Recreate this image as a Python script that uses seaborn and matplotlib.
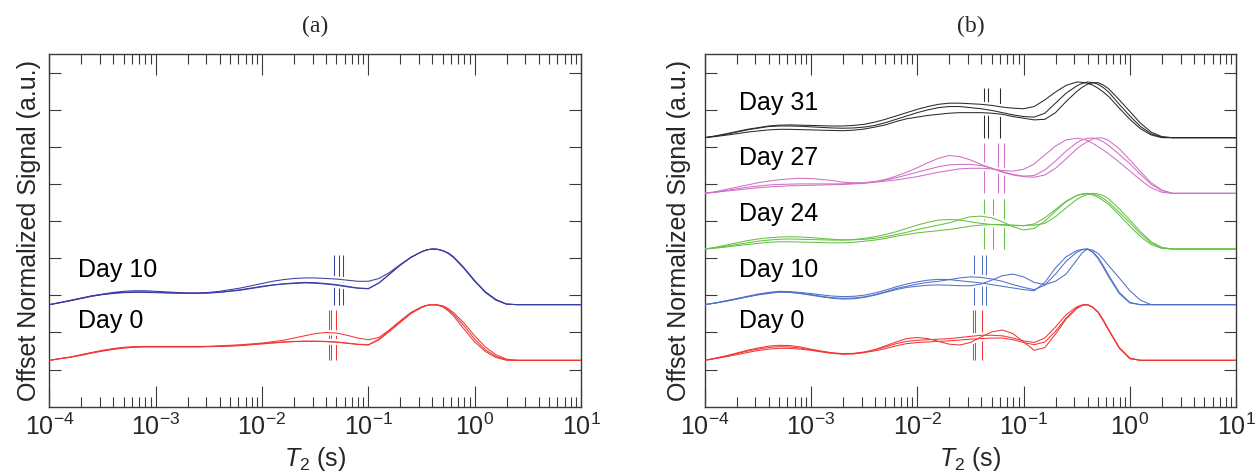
import numpy as np
import pandas as pd
import matplotlib
matplotlib.use("Agg")
import matplotlib.pyplot as plt
import seaborn as sns
from matplotlib.ticker import LogLocator, NullFormatter, LogFormatterMathtext

# ---------------------------------------------------------------------------
# T2 distributions (normalized signal, peak = 1) sampled on a log10(T2) grid
# ---------------------------------------------------------------------------
t2_exponent = [-4.0, -3.9, -3.8, -3.7, -3.6,
               -3.5, -3.4, -3.3, -3.2, -3.1,
               -3.0, -2.9, -2.8, -2.7, -2.6,
               -2.5, -2.4, -2.3, -2.2, -2.1,
               -2.0, -1.9, -1.8, -1.7, -1.6,
               -1.5, -1.4, -1.3, -1.2, -1.1,
               -1.0, -0.9, -0.8, -0.7, -0.6,
               -0.5, -0.45, -0.4, -0.35, -0.3, -0.25, -0.2, -0.1,
               0.0, 0.1, 0.2, 0.3, 0.4]
t2_end = 10.0  # distributions are flat at zero out to 10 s

# ---- panel (a) ----
a_day0_1 = [0.00, 0.03, 0.06, 0.10, 0.14, 0.18, 0.21, 0.235, 0.245, 0.25,
            0.25, 0.25, 0.25, 0.25, 0.25, 0.25, 0.26, 0.27, 0.28, 0.295,
            0.31, 0.335, 0.36, 0.40, 0.44, 0.48, 0.50, 0.49, 0.45, 0.40,
            0.37, 0.41, 0.55, 0.71, 0.86,
            0.96, 0.99, 1.00, 0.99, 0.96, 0.89, 0.80, 0.56,
            0.33, 0.16, 0.05, 0.0, 0.0]
a_day0_2 = [0.00, 0.03, 0.06, 0.10, 0.14, 0.175, 0.205, 0.225, 0.24, 0.245,
            0.245, 0.245, 0.245, 0.245, 0.245, 0.25, 0.255, 0.26, 0.27, 0.285,
            0.30, 0.315, 0.33, 0.34, 0.345, 0.345, 0.34, 0.33, 0.31, 0.29,
            0.28, 0.38, 0.54, 0.70, 0.85,
            0.95, 0.985, 1.00, 0.995, 0.97, 0.91, 0.83, 0.62,
            0.38, 0.19, 0.07, 0.01, 0.0]
a_day0_3 = [0.00, 0.03, 0.055, 0.09, 0.13, 0.165, 0.195, 0.22, 0.235, 0.24,
            0.24, 0.24, 0.24, 0.24, 0.24, 0.245, 0.25, 0.255, 0.265, 0.28,
            0.295, 0.31, 0.325, 0.335, 0.34, 0.34, 0.335, 0.325, 0.305, 0.285,
            0.275, 0.37, 0.52, 0.68, 0.84,
            0.95, 0.985, 1.00, 0.995, 0.98, 0.93, 0.86, 0.67,
            0.44, 0.24, 0.10, 0.02, 0.0]
a_day10_1 = [0.00, 0.04, 0.08, 0.12, 0.16, 0.19, 0.22, 0.24, 0.25, 0.25,
             0.24, 0.23, 0.22, 0.21, 0.21, 0.22, 0.24, 0.27, 0.30, 0.34,
             0.38, 0.42, 0.45, 0.47, 0.48, 0.48, 0.47, 0.46, 0.44, 0.42,
             0.42, 0.47, 0.58, 0.72, 0.85,
             0.95, 0.985, 1.00, 0.995, 0.97, 0.93, 0.86, 0.66,
             0.43, 0.23, 0.09, 0.01, 0.0]
a_day10_2 = [0.00, 0.035, 0.07, 0.11, 0.15, 0.18, 0.20, 0.215, 0.22, 0.22,
             0.215, 0.21, 0.205, 0.205, 0.205, 0.21, 0.22, 0.24, 0.26, 0.29,
             0.32, 0.35, 0.37, 0.38, 0.39, 0.385, 0.37, 0.35, 0.32, 0.295,
             0.285, 0.39, 0.55, 0.71, 0.85,
             0.95, 0.985, 1.00, 0.995, 0.97, 0.92, 0.85, 0.65,
             0.42, 0.22, 0.08, 0.01, 0.0]
a_day10_3 = [0.00, 0.035, 0.075, 0.115, 0.155, 0.185, 0.21, 0.225, 0.23, 0.23,
             0.225, 0.215, 0.21, 0.205, 0.205, 0.21, 0.225, 0.245, 0.27, 0.30,
             0.33, 0.355, 0.375, 0.39, 0.40, 0.395, 0.38, 0.36, 0.33, 0.30,
             0.29, 0.39, 0.55, 0.71, 0.85,
             0.95, 0.985, 1.00, 0.995, 0.97, 0.93, 0.86, 0.66,
             0.43, 0.23, 0.09, 0.01, 0.0]

# ---- panel (b) ----
b_day0_1 = [0.00, 0.04, 0.08, 0.13, 0.18, 0.22, 0.255, 0.27, 0.265, 0.24,
            0.20, 0.165, 0.135, 0.12, 0.125, 0.15, 0.19, 0.24, 0.30, 0.34,
            0.36, 0.37, 0.38, 0.39, 0.41, 0.43, 0.45, 0.45, 0.44, 0.40,
            0.35, 0.32, 0.40, 0.60, 0.82,
            0.96, 0.995, 1.00, 0.95, 0.86, 0.71, 0.54, 0.22,
            0.03, 0.0, 0.0, 0.0, 0.0]
b_day0_2 = [0.00, 0.035, 0.075, 0.12, 0.165, 0.20, 0.23, 0.245, 0.24, 0.22,
            0.19, 0.16, 0.13, 0.115, 0.12, 0.14, 0.17, 0.21, 0.26, 0.30,
            0.32, 0.33, 0.34, 0.35, 0.365, 0.38, 0.39, 0.40, 0.40, 0.37,
            0.32, 0.28, 0.33, 0.52, 0.76,
            0.94, 0.99, 1.00, 0.955, 0.87, 0.72, 0.55, 0.23,
            0.04, 0.0, 0.0, 0.0, 0.0]
b_day0_3 = [0.00, 0.03, 0.065, 0.10, 0.14, 0.175, 0.20, 0.215, 0.215, 0.20,
            0.18, 0.15, 0.125, 0.11, 0.115, 0.14, 0.19, 0.26, 0.33, 0.39,
            0.41, 0.39, 0.34, 0.29, 0.275, 0.32, 0.42, 0.51, 0.545, 0.48,
            0.33, 0.18, 0.23, 0.47, 0.74,
            0.93, 0.985, 1.00, 0.955, 0.87, 0.72, 0.55, 0.22,
            0.03, 0.0, 0.0, 0.0, 0.0]
b_day10_1 = [0.00, 0.03, 0.07, 0.11, 0.15, 0.19, 0.22, 0.24, 0.235, 0.22,
             0.20, 0.175, 0.155, 0.145, 0.15, 0.17, 0.21, 0.26, 0.32, 0.37,
             0.41, 0.44, 0.455, 0.45, 0.43, 0.41, 0.39, 0.36, 0.33, 0.30,
             0.27, 0.25, 0.40, 0.66, 0.86,
             0.97, 0.995, 1.00, 0.94, 0.83, 0.67, 0.50, 0.20,
             0.03, 0.0, 0.0, 0.0, 0.0]
b_day10_2 = [0.00, 0.03, 0.065, 0.10, 0.14, 0.18, 0.21, 0.23, 0.225, 0.20,
             0.18, 0.15, 0.125, 0.115, 0.12, 0.14, 0.18, 0.23, 0.29, 0.33,
             0.37, 0.40, 0.42, 0.45, 0.48, 0.50, 0.49, 0.46, 0.42, 0.36,
             0.31, 0.27, 0.35, 0.55, 0.78,
             0.94, 0.985, 1.00, 0.95, 0.85, 0.70, 0.53, 0.22,
             0.04, 0.0, 0.0, 0.0, 0.0]
b_day10_3 = [0.00, 0.03, 0.06, 0.10, 0.14, 0.175, 0.20, 0.225, 0.22, 0.20,
             0.17, 0.14, 0.115, 0.10, 0.105, 0.13, 0.17, 0.22, 0.27, 0.31,
             0.33, 0.35, 0.355, 0.35, 0.34, 0.34, 0.37, 0.44, 0.52, 0.55,
             0.50, 0.40, 0.36, 0.42, 0.55,
             0.80, 0.93, 1.00, 0.98, 0.92, 0.82, 0.70, 0.48,
             0.25, 0.08, 0.0, 0.0, 0.0]
b_day24_1 = [0.00, 0.03, 0.07, 0.11, 0.15, 0.18, 0.20, 0.215, 0.22, 0.215,
             0.205, 0.19, 0.175, 0.165, 0.165, 0.175, 0.19, 0.22, 0.26, 0.30,
             0.35, 0.39, 0.43, 0.47, 0.53, 0.58, 0.59, 0.56, 0.49, 0.40,
             0.34, 0.37, 0.50, 0.68, 0.85,
             0.96, 0.985, 0.99, 0.97, 0.93, 0.87, 0.80, 0.61,
             0.41, 0.22, 0.08, 0.01, 0.0]
b_day24_2 = [0.00, 0.02, 0.05, 0.08, 0.11, 0.14, 0.16, 0.175, 0.18, 0.175,
             0.17, 0.165, 0.16, 0.16, 0.17, 0.19, 0.22, 0.26, 0.31, 0.37,
             0.43, 0.48, 0.52, 0.53, 0.52, 0.49, 0.46, 0.44, 0.43, 0.42,
             0.42, 0.45, 0.56, 0.71, 0.86,
             0.96, 0.99, 1.00, 0.99, 0.96, 0.91, 0.84, 0.66,
             0.47, 0.27, 0.11, 0.02, 0.0]
b_day24_3 = [0.00, 0.015, 0.035, 0.06, 0.08, 0.10, 0.12, 0.13, 0.13, 0.125,
             0.12, 0.115, 0.11, 0.11, 0.12, 0.14, 0.16, 0.19, 0.23, 0.26,
             0.29, 0.31, 0.33, 0.35, 0.38, 0.41, 0.43, 0.44, 0.44, 0.43,
             0.42, 0.43, 0.46, 0.58, 0.74,
             0.89, 0.945, 0.98, 1.00, 0.99, 0.96, 0.90, 0.72,
             0.52, 0.31, 0.13, 0.03, 0.0]
b_day27_1 = [0.00, 0.02, 0.04, 0.06, 0.08, 0.10, 0.115, 0.125, 0.135, 0.14,
             0.145, 0.15, 0.155, 0.16, 0.17, 0.18, 0.20, 0.22, 0.24, 0.27,
             0.30, 0.34, 0.38, 0.41, 0.44, 0.45, 0.45, 0.44, 0.41, 0.40,
             0.43, 0.53, 0.69, 0.85, 0.96,
             0.99, 0.975, 0.95, 0.90, 0.84, 0.78, 0.71, 0.56,
             0.40, 0.24, 0.10, 0.02, 0.0]
b_day27_2 = [0.00, 0.02, 0.05, 0.08, 0.11, 0.13, 0.15, 0.16, 0.165, 0.17,
             0.17, 0.17, 0.17, 0.17, 0.18, 0.19, 0.21, 0.24, 0.28, 0.33,
             0.38, 0.43, 0.48, 0.51, 0.52, 0.52, 0.50, 0.45, 0.39, 0.34,
             0.31, 0.32, 0.42, 0.58, 0.76,
             0.91, 0.96, 0.99, 0.995, 0.97, 0.925, 0.86, 0.70,
             0.53, 0.34, 0.16, 0.05, 0.0]
b_day27_3 = [0.00, 0.03, 0.07, 0.11, 0.15, 0.19, 0.22, 0.245, 0.26, 0.27,
             0.265, 0.25, 0.23, 0.20, 0.19, 0.19, 0.21, 0.25, 0.31, 0.38,
             0.46, 0.55, 0.63, 0.68, 0.66, 0.60, 0.52, 0.45, 0.38, 0.33,
             0.30, 0.29, 0.33, 0.45, 0.62,
             0.80, 0.87, 0.93, 0.975, 1.00, 0.99, 0.95, 0.80,
             0.60, 0.39, 0.19, 0.06, 0.0]
b_day31_1 = [0.00, 0.03, 0.07, 0.11, 0.15, 0.18, 0.21, 0.225, 0.23, 0.225,
             0.22, 0.215, 0.21, 0.21, 0.22, 0.24, 0.28, 0.33, 0.39, 0.45,
             0.51, 0.56, 0.60, 0.62, 0.62, 0.61, 0.60, 0.58, 0.55, 0.53,
             0.52, 0.56, 0.68, 0.82, 0.94,
             1.00, 0.995, 0.98, 0.945, 0.89, 0.82, 0.74, 0.53,
             0.33, 0.16, 0.05, 0.0, 0.0]
b_day31_2 = [0.00, 0.03, 0.06, 0.10, 0.14, 0.17, 0.20, 0.21, 0.21, 0.205,
             0.195, 0.185, 0.175, 0.17, 0.175, 0.19, 0.22, 0.27, 0.33, 0.39,
             0.45, 0.50, 0.54, 0.56, 0.56, 0.54, 0.52, 0.49, 0.45, 0.41,
             0.38, 0.37, 0.44, 0.62, 0.80,
             0.93, 0.975, 1.00, 0.99, 0.96, 0.90, 0.82, 0.60,
             0.39, 0.20, 0.07, 0.01, 0.0]
b_day31_3 = [0.00, 0.02, 0.045, 0.07, 0.10, 0.12, 0.14, 0.15, 0.15, 0.145,
             0.14, 0.135, 0.13, 0.125, 0.135, 0.155, 0.19, 0.23, 0.29, 0.34,
             0.37, 0.40, 0.42, 0.44, 0.45, 0.45, 0.45, 0.44, 0.42, 0.38,
             0.35, 0.32, 0.33, 0.45, 0.65,
             0.83, 0.905, 0.96, 0.985, 0.99, 0.945, 0.88, 0.68,
             0.47, 0.26, 0.10, 0.02, 0.0]

# T2 cutoff markers (s), one per replicate
a_cut_day0 = [0.043, 0.045, 0.0495]
a_cut_day10 = [0.0475, 0.053, 0.0582]
b_cut_day0 = [0.0335, 0.035, 0.041]
b_cut_day10 = [0.0344, 0.0404, 0.044]
b_cut_day24 = [0.0427, 0.0519, 0.0658]
b_cut_day27 = [0.0422, 0.057, 0.065]
b_cut_day31 = [0.0422, 0.0466, 0.0604]

# ---------------------------------------------------------------------------
# Styling
# ---------------------------------------------------------------------------
sns.set_theme(style="white")
plt.rcParams["font.family"] = ["Liberation Sans", "DejaVu Sans"]
plt.rcParams["mathtext.fontset"] = "custom"
plt.rcParams["mathtext.rm"] = "Liberation Sans"
plt.rcParams["mathtext.it"] = "Liberation Sans:italic"
plt.rcParams["mathtext.bf"] = "Liberation Sans:bold"

RED = "#f23636"
NAVY = "#3c3ca6"
BLUE = "#5070c8"
GREEN = "#66c044"
MAGENTA = "#d070c4"
BLACK = "#2a2a2a"
SPINE = "#3a3a3a"

BASE0 = 1.25     # offset of the first stacked trace
STEP = 1.5       # vertical spacing between days
AMP = 1.5        # plotted height of a unit-normalized peak
MARK_H = 0.9     # cutoff marker height (normalized units)
LW = 0.75

panel_a = [
    ("Day 0", [a_day0_1, a_day0_2, a_day0_3], a_cut_day0, RED),
    ("Day 10", [a_day10_1, a_day10_2, a_day10_3], a_cut_day10, NAVY),
]
panel_b = [
    ("Day 0", [b_day0_1, b_day0_2, b_day0_3], b_cut_day0, RED),
    ("Day 10", [b_day10_1, b_day10_2, b_day10_3], b_cut_day10, BLUE),
    ("Day 24", [b_day24_1, b_day24_2, b_day24_3], b_cut_day24, GREEN),
    ("Day 27", [b_day27_1, b_day27_2, b_day27_3], b_cut_day27, MAGENTA),
    ("Day 31", [b_day31_1, b_day31_2, b_day31_3], b_cut_day31, BLACK),
]

t2 = [10.0 ** e for e in t2_exponent] + [t2_end]


def build_frame(groups):
    rows = []
    for k, (day, reps, _, _) in enumerate(groups):
        base = BASE0 + STEP * k
        for r, vals in enumerate(reps):
            for x, v in zip(t2, list(vals) + [0.0]):
                rows.append({"day": day, "rep": r, "t2": x,
                             "signal": base + AMP * v})
    return pd.DataFrame(rows)


W, H = 1259, 474
fig = plt.figure(figsize=(W / 100, H / 100), dpi=100)
ax_a = fig.add_axes([49.4 / W, (H - 406.7) / H, 531.6 / W, 352.5 / H])
ax_b = fig.add_axes([704.7 / W, (H - 406.7) / H, 531.5 / W, 352.5 / H])


def draw_panel(ax, groups, title, label_x, ylabel_x):
    df = build_frame(groups)
    for k, (day, reps, cuts, color) in enumerate(groups):
        base = BASE0 + STEP * k
        ax.vlines(cuts, base, base + MARK_H * AMP, colors=color,
                  lw=0.75, zorder=1)
        sub = df[df["day"] == day]
        # white casing under the traces
        sns.lineplot(data=sub, x="t2", y="signal", units="rep",
                     estimator=None, sort=False, color="white", lw=4.0,
                     ax=ax, legend=False, zorder=2)
    for k, (day, reps, cuts, color) in enumerate(groups):
        sub = df[df["day"] == day]
        sns.lineplot(data=sub, x="t2", y="signal", units="rep",
                     estimator=None, sort=False, color=color, lw=LW,
                     ax=ax, legend=False, zorder=3)
        base = BASE0 + STEP * k
        dy = 1.05 if day == "Day 0" else 0.94
        ax.text(label_x, base + dy, day, fontsize=18, ha="left",
                va="center", color="black")

    ax.set_xscale("log")
    ax.set_xlim(1e-4, 10)
    ax.set_ylim(0, 9.5)
    ax.set_yticks(range(1, 10))
    ax.set_yticklabels([])
    ax.xaxis.set_major_locator(LogLocator(base=10, numticks=10))
    ax.xaxis.set_minor_locator(LogLocator(base=10, subs=np.arange(2, 10),
                                          numticks=100))
    ax.xaxis.set_major_formatter(LogFormatterMathtext())
    ax.xaxis.set_minor_formatter(NullFormatter())
    ax.tick_params(axis="x", which="major", direction="in", length=14.9,
                   width=0.8, color=SPINE, top=True, bottom=True,
                   labelsize=18, pad=5)
    ax.tick_params(axis="x", which="minor", direction="in", length=7.2,
                   width=0.8, color=SPINE, top=True, bottom=True)
    ax.tick_params(axis="y", which="major", direction="in", length=8.9,
                   width=0.8, color=SPINE, left=True, right=True)
    for sp in ax.spines.values():
        sp.set_visible(True)
        sp.set_color(SPINE)
        sp.set_linewidth(1.0)

    ax.set_xlabel(r"$T_2$ (s)", fontsize=18)
    ax.xaxis.set_label_coords(0.5, -0.108)
    ax.set_ylabel("Offset Normalized Signal (a.u.)", fontsize=18)
    ax.yaxis.set_label_coords(ylabel_x, 0.5)
    ax.text(0.5, 1.08, title, transform=ax.transAxes, ha="center",
            va="center", fontsize=17, family="Liberation Serif")


draw_panel(ax_a, panel_a, "(a)", 1.86e-4, -0.0162)
draw_panel(ax_b, panel_b, "(b)", 2.12e-4, -0.0258)

fig.savefig("out.png", dpi=100, facecolor="white")
